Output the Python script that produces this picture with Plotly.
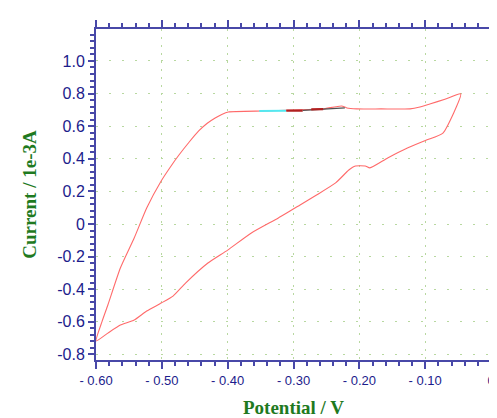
import plotly.graph_objects as go

# Forward scan (upper branch)
fwd_potential = [-0.600, -0.591, -0.582, -0.563, -0.542, -0.523, -0.501, -0.487, -0.474, -0.459, -0.444,
                 -0.431, -0.419, -0.409, -0.399, -0.345, -0.300, -0.256, -0.227, -0.219, -0.204,
                 -0.167, -0.123, -0.108, -0.093, -0.070, -0.046]
fwd_current = [-0.718, -0.600, -0.497, -0.270, -0.086, 0.098, 0.264, 0.350, 0.423, 0.500, 0.571,
               0.618, 0.650, 0.672, 0.687, 0.693, 0.699, 0.706, 0.724, 0.712, 0.706,
               0.706, 0.706, 0.718, 0.736, 0.765, 0.798]
# Reverse scan (lower branch)
rev_potential = [-0.046, -0.073, -0.098, -0.127, -0.157, -0.184, -0.191, -0.206, -0.216, -0.236,
                 -0.265, -0.290, -0.323, -0.364, -0.400, -0.430, -0.464, -0.483, -0.501, -0.523,
                 -0.542, -0.563, -0.582, -0.600]
rev_current = [0.798, 0.558, 0.515, 0.466, 0.405, 0.344, 0.356, 0.356, 0.331, 0.252,
               0.178, 0.117, 0.037, -0.055, -0.160, -0.239, -0.362, -0.442, -0.485, -0.534,
               -0.589, -0.620, -0.669, -0.718]
# Overlapping short segments on the plateau
cyan_potential = [-0.352, -0.311]
cyan_current = [0.693, 0.694]
dark_potential = [-0.311, -0.286]
dark_current = [0.695, 0.696]
grey_potential = [-0.286, -0.222]
grey_current = [0.697, 0.712]
dark2_potential = [-0.273, -0.255]
dark2_current = [0.703, 0.705]

x_ticks = [-0.6, -0.5, -0.4, -0.3, -0.2, -0.1, 0.0]
x_ticktext = ["- 0.60", "- 0.50", "- 0.40", "- 0.30", "- 0.20", "- 0.10", "0"]
y_ticks = [-0.8, -0.6, -0.4, -0.2, 0.0, 0.2, 0.4, 0.6, 0.8, 1.0]
y_ticktext = ["-0.8", "-0.6", "-0.4", "-0.2", "0", "0.2", "0.4", "0.6", "0.8", "1.0"]

axis_col = "#4848a8"
label_col = "#1c1c8c"
title_col = "#1f7a1f"
grid_col = "#b8d8a0"

fig = go.Figure()
fig.add_trace(go.Scatter(x=fwd_potential + rev_potential[1:], y=fwd_current + rev_current[1:],
                         mode="lines", line=dict(color="#ff6a6a", width=1.1, shape="spline", smoothing=0.5),
                         hoverinfo="skip"))
fig.add_trace(go.Scatter(x=cyan_potential, y=cyan_current, mode="lines",
                         line=dict(color="#55e8f0", width=2)))
fig.add_trace(go.Scatter(x=dark_potential, y=dark_current, mode="lines",
                         line=dict(color="#b02020", width=2.2)))
fig.add_trace(go.Scatter(x=grey_potential, y=grey_current, mode="lines",
                         line=dict(color="#505050", width=1.4)))
fig.add_trace(go.Scatter(x=dark2_potential, y=dark2_current, mode="lines",
                         line=dict(color="#b02020", width=2.2)))

fig.update_layout(
    width=497, height=418,
    margin=dict(l=88, r=6, t=21, b=66),
    paper_bgcolor="white", plot_bgcolor="white",
    showlegend=False,
    xaxis=dict(
        range=[-0.6, 0.0], tickvals=x_ticks, ticktext=x_ticktext,
        showline=True, linecolor=axis_col, linewidth=2, mirror="allticks",
        ticks="outside", ticklen=7, tickcolor=axis_col, tickwidth=1.5,
        showgrid=True, gridcolor=grid_col, griddash="2px,6px", gridwidth=1,
        zeroline=False,
        minor=dict(dtick=0.02, ticks="outside", ticklen=4, tickcolor=axis_col, showgrid=False),
        tickfont=dict(family="Liberation Sans Narrow, Arial Narrow, Liberation Sans, sans-serif", size=13, color=label_col),
        title=dict(text="Potential / V", standoff=14,
                   font=dict(family="Liberation Serif, Times New Roman, serif", size=19,
                             color=title_col, weight="bold")),
    ),
    yaxis=dict(
        range=[-0.834, 1.196], tickvals=y_ticks, ticktext=y_ticktext,
        showline=True, linecolor=axis_col, linewidth=2, mirror="allticks",
        ticks="outside", ticklen=6, tickcolor=axis_col, tickwidth=1.5,
        showgrid=True, gridcolor=grid_col, griddash="2px,11px", gridwidth=1,
        zeroline=False,
        minor=dict(dtick=0.04, ticks="outside", ticklen=4, tickcolor=axis_col, showgrid=False),
        tickfont=dict(family="Liberation Sans Narrow, Arial Narrow, Liberation Sans, sans-serif", size=16, color=label_col),
        title=dict(text="Current / 1e-3A", standoff=16,
                   font=dict(family="Liberation Serif, Times New Roman, serif", size=19,
                             color=title_col, weight="bold")),
    ),
)

fig.write_html("out.html")
